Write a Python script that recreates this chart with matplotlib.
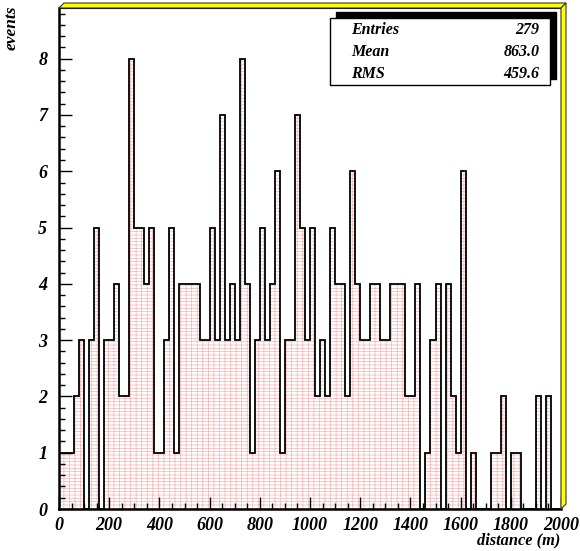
import matplotlib
matplotlib.use("Agg")
import matplotlib.pyplot as plt
import numpy as np
from matplotlib.patches import Polygon, Rectangle
from matplotlib.ticker import MultipleLocator

# ---- data ----
x_min, x_max, n_bins = 0, 2000, 100
counts = [1, 1, 1, 2, 3, 0, 3, 5, 0, 3,
          3, 4, 2, 2, 8, 5, 5, 4, 5, 1,
          1, 3, 5, 1, 4, 4, 4, 4, 3, 3,
          5, 3, 7, 3, 4, 3, 8, 4, 1, 3,
          5, 3, 4, 6, 1, 3, 3, 7, 5, 3,
          5, 2, 3, 2, 5, 4, 4, 2, 6, 4,
          3, 3, 4, 4, 3, 3, 4, 4, 4, 2,
          2, 4, 0, 1, 3, 4, 0, 4, 2, 1,
          6, 0, 1, 0, 0, 0, 1, 1, 2, 0,
          1, 1, 0, 0, 0, 2, 0, 2, 0, 0]
stats_labels = ["Entries", "Mean", "RMS"]
stats_values = ["279", "863.0", "459.6"]
x_ticks = list(range(0, 2001, 200))
y_ticks = list(range(0, 9))
x_title = "distance (m)"
y_title = "events"

edges = np.linspace(x_min, x_max, n_bins + 1)

W, H = 580, 551
plt.rcParams['hatch.color'] = '#f6b4b4'
plt.rcParams['hatch.linewidth'] = 0.5
FONT = dict(family='Liberation Serif', weight='bold', style='italic')

fig = plt.figure(figsize=(W / 100, H / 100), dpi=100)
L, R, T, B = 59, 561, 8, 509
ax = fig.add_axes([L / W, (H - B) / H, (R - L) / W, (B - T) / H])
ax.set_xlim(x_min, x_max)
ax.set_ylim(0, 8.9)

ax.stairs(counts, edges, fill=True, facecolor='white', edgecolor='#f6b4b4',
          linewidth=0, hatch='-----|||', zorder=1)
ax.stairs(counts, edges, fill=False, color='black', linewidth=1.3, zorder=2)

for s in ['top', 'right']:
    ax.spines[s].set_linewidth(0.8)
for s in ['left', 'bottom']:
    ax.spines[s].set_linewidth(1.8)

ax.set_xticks(x_ticks)
ax.set_yticks(y_ticks)
ax.xaxis.set_minor_locator(MultipleLocator(50))
ax.yaxis.set_minor_locator(MultipleLocator(0.2))
ax.tick_params(which='both', direction='in', top=False, right=False, width=1, color='black')
ax.tick_params(which='major', length=9)
ax.tick_params(which='minor', length=4.5)
ax.tick_params(axis='x', which='major', pad=5.5)
ax.tick_params(axis='y', which='major', pad=8.5)
for lab in ax.get_xticklabels() + ax.get_yticklabels():
    lab.set_fontfamily('Liberation Serif')
    lab.set_fontweight('bold')
    lab.set_fontstyle('italic')
    lab.set_fontsize(13)

def P(x, y):
    return (x, H - y)

d = 5
top_face = [P(L, T), P(L + d, T - d), P(R + d, T - d), P(R, T)]
right_face = [P(R, T), P(R + d, T - d), P(R + d, B - d), P(R, B)]
for poly in (top_face, right_face):
    fig.add_artist(Polygon(poly, closed=True, facecolor='#ffff00', edgecolor='#333333',
                           linewidth=0.8, transform=None, zorder=5))

# stats box with shadow
bx0, by0, bx1, by1 = 330, 18.3, 550, 85
sh = 6
fig.add_artist(Rectangle(P(bx0 + sh, by1 - sh), bx1 - bx0, by1 - by0, facecolor='black',
                         edgecolor='black', transform=None, zorder=6))
fig.add_artist(Rectangle(P(bx0, by1), bx1 - bx0, by1 - by0, facecolor='white',
                         edgecolor='black', linewidth=1.0, transform=None, zorder=7))
rows_y = [30, 52.5, 74]
for lab, val, yy in zip(stats_labels, stats_values, rows_y):
    fig.text(351.5 / W, (H - yy) / H, lab, ha='left', va='center', fontsize=11.5,
             zorder=8, **FONT)
    fig.text(539.5 / W, (H - yy) / H, val, ha='right', va='center', fontsize=11.5,
             zorder=8, **FONT)

fig.text(560 / W, (H - 540) / H, x_title, ha='right', va='center', fontsize=11.8, **FONT)
fig.text(12 / W, (H - 5) / H, y_title, ha='center', va='top', rotation=90, fontsize=12.5, **FONT)

fig.savefig("out.png", dpi=100)
